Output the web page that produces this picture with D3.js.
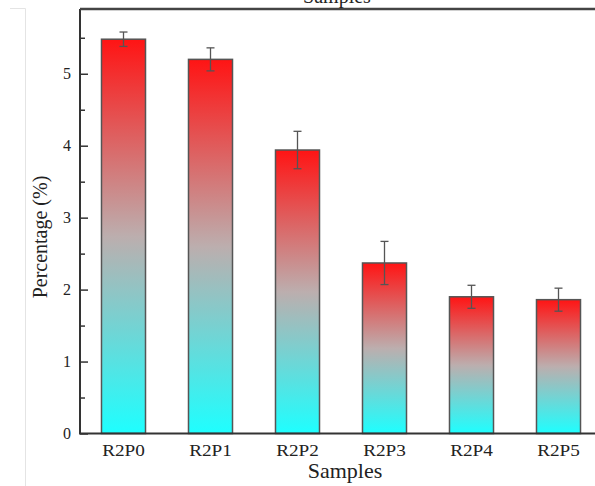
<!DOCTYPE html>
<html><head><meta charset="utf-8">
<script src="https://cdn.jsdelivr.net/npm/d3@7"></script>
<style>body{margin:0;background:#fff}svg{display:block}text{font-family:"Liberation Serif","Times New Roman",serif;fill:#222}</style>
</head><body><svg id="c" width="595" height="486"></svg>
<script>
const categories = ["R2P0","R2P1","R2P2","R2P3","R2P4","R2P5"];
const values = [5.48, 5.20, 3.94, 2.37, 1.90, 1.86];
const errors = [0.10, 0.16, 0.26, 0.30, 0.16, 0.16];
const yTicks = [0,1,2,3,4,5];
const yMinor = [0.5,1.5,2.5,3.5,4.5,5.5];

(function(){
const svg = d3.select("#c");
const mLeft = 80, mTop = 9, mBottom = 433.5, mRight = 602;
const x = d3.scaleBand().domain(categories).range([mLeft, mRight]).paddingInner(0.494).paddingOuter(0.247);
const y = d3.scaleLinear().domain([0, 5.9]).range([mBottom, mTop]);

// faint page border
svg.append("path").attr("d","M10,8.5H25.5V486").attr("fill","none").attr("stroke","#e4e4e4").attr("stroke-width",1);

const defs = svg.append("defs");
const g = defs.append("linearGradient").attr("id","grad").attr("x1",0).attr("y1",0).attr("x2",0).attr("y2",1);
g.append("stop").attr("offset","0%").attr("stop-color","#ff1414");
g.append("stop").attr("offset","50%").attr("stop-color","#bcaeae");
g.append("stop").attr("offset","100%").attr("stop-color","#1effff");

// bars
svg.selectAll("rect.bar").data(categories).join("rect").attr("class","bar")
  .attr("x", d => x(d)).attr("width", x.bandwidth())
  .attr("y", (d,i) => y(values[i])).attr("height", (d,i) => y(0) - y(values[i]))
  .attr("fill","url(#grad)").attr("stroke","#555").attr("stroke-width",1.5);

// error bars
const eb = svg.append("g").attr("stroke","#555").attr("stroke-width",1.3).attr("fill","none");
categories.forEach((c,i) => {
  const cx = x(c) + x.bandwidth()/2;
  const y1 = y(values[i]+errors[i]), y2 = y(values[i]-errors[i]);
  eb.append("line").attr("x1",cx).attr("x2",cx).attr("y1",y1).attr("y2",y2);
  eb.append("line").attr("x1",cx-4).attr("x2",cx+4).attr("y1",y1).attr("y2",y1);
  eb.append("line").attr("x1",cx-4).attr("x2",cx+4).attr("y1",y2).attr("y2",y2);
});

// y axis
const ya = svg.append("g").attr("transform",`translate(${mLeft},0)`)
  .call(d3.axisRight(y).tickValues(yTicks).tickSize(8).tickFormat(d3.format("d")));
ya.select(".domain").remove();
ya.selectAll(".tick line").attr("stroke","#333").attr("stroke-width",1.5);
ya.selectAll(".tick text").attr("x",-9).attr("text-anchor","end").attr("font-size",16).attr("fill","#222")
  .attr("font-family",'"Liberation Serif",serif');
const ym = svg.append("g").attr("transform",`translate(${mLeft},0)`)
  .call(d3.axisRight(y).tickValues(yMinor).tickSize(5).tickFormat(""));
ym.select(".domain").remove();
ym.selectAll(".tick line").attr("stroke","#333").attr("stroke-width",1.5);

// x axis labels
const xa = svg.append("g").attr("transform",`translate(0,${mBottom})`)
  .call(d3.axisBottom(x).tickSize(0).tickPadding(11));
xa.select(".domain").remove();
xa.selectAll(".tick text").attr("font-size",16).attr("fill","#222").attr("font-family",'"Liberation Serif",serif')
  .attr("transform","scale(1.2,1)");

// frame lines
svg.append("path").attr("d",`M${mLeft},${mTop}V${mBottom}H595`).attr("fill","none").attr("stroke","#333").attr("stroke-width",2);
svg.append("line").attr("x1",mLeft).attr("x2",595).attr("y1",mTop).attr("y2",mTop).attr("stroke","#444").attr("stroke-width",2.5);

// titles
svg.append("text").attr("x",337).attr("y",3).attr("text-anchor","middle").attr("font-size",20).attr("fill","#444").text("Samples");
svg.append("text").attr("text-anchor","middle").attr("font-size",20)
  .attr("transform",`translate(345,478) scale(1.1,1)`).text("Samples");
svg.append("text").attr("text-anchor","middle").attr("font-size",20)
  .attr("transform",`translate(47,237) rotate(-90)`).text("Percentage (%)");
})();
</script></body></html>
